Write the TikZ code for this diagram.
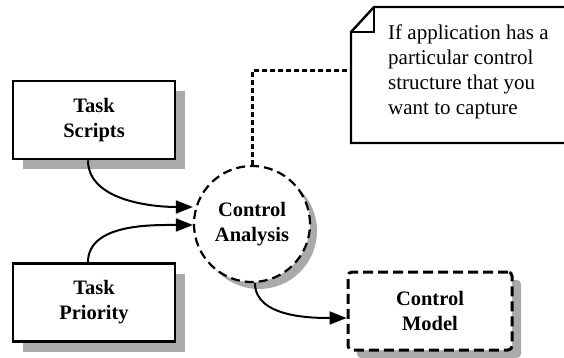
\documentclass[tikz,border=0pt]{standalone}
\usepackage{fontspec}
\setmainfont{Liberation Serif}
\usetikzlibrary{arrows.meta,shadows}
\definecolor{shadowgray}{HTML}{AAAAAA}
\tikzset{
  boxfont/.style={font=\fontsize{20.5}{25}\selectfont\bfseries, align=center},
  taskbox/.style={draw, line width=2.6pt, minimum width=162pt, minimum height=78pt,
    fill=white, boxfont,
    general shadow={fill=shadowgray, shadow xshift=10pt, shadow yshift=-10pt}},
  procnode/.style={draw, circle, line width=2.2pt, dash pattern=on 9pt off 5pt,
    minimum size=116pt, fill=white, boxfont,
    general shadow={fill=shadowgray, shadow xshift=7pt, shadow yshift=-7pt}},
  modelbox/.style={draw, line width=3pt, dash pattern=on 10pt off 5pt,
    rounded corners=4pt, minimum width=164pt, minimum height=78pt, fill=white, boxfont,
    general shadow={fill=shadowgray, shadow xshift=9pt, shadow yshift=-8pt}},
  flow/.style={line width=2pt, -{Triangle[length=17pt,width=13pt]}},
  notelink/.style={line width=3pt, dash pattern=on 5pt off 3pt},
  notetext/.style={font=\fontsize{21}{25}\selectfont, align=left, anchor=north west}
}
\begin{document}
\begin{tikzpicture}[x=1pt, y=-1pt]
  \useasboundingbox (0,0) rectangle (564,358);
  \clip (0,0) rectangle (564,358);

  % note with folded corner
  \draw[line width=2.4pt, fill=white, line join=miter]
    (351,32) -- (374,7) -- (575,7) -- (575,143) -- (351,143) -- cycle;
  \draw[line width=2.4pt] (351,32) -- (374,32) -- (374,7);
  \node[inner sep=0pt, minimum width=224pt, minimum height=136pt] (note) at (463,75) {};
  \node[notetext, inner sep=0pt] (notetxt) at (388,25)
    {If application has a\\particular control\\structure that you\\want to capture};

  % process nodes
  \node[taskbox] (scripts) at (94,120) {Task\\Scripts};
  \node[taskbox] (priority) at (94,302.5) {Task\\Priority};
  \node[procnode] (analysis) at (252,224) {Control\\Analysis};
  \node[modelbox] (model) at (430,311) {Control\\Model};

  % link from the note to the analysis bubble
  \coordinate (bend) at (analysis.north |- 0,71);
  \draw[notelink] (analysis.north) -- (bend) -- (note.west |- bend);

  % data flows (yshift is in page direction: positive = up)
  \draw[flow] ([xshift=-6pt]scripts.south) to[out=-90, in=180, looseness=0.9]
    ([yshift=17pt]analysis.west);
  \draw[flow] ([xshift=-6pt]priority.north) to[out=90, in=180, looseness=0.9]
    ([yshift=-1pt]analysis.west);
  \draw[flow] ([xshift=3pt]analysis.south) to[out=-90, in=180, looseness=0.9]
    ([yshift=-7pt]model.west);
\end{tikzpicture}
\end{document}
